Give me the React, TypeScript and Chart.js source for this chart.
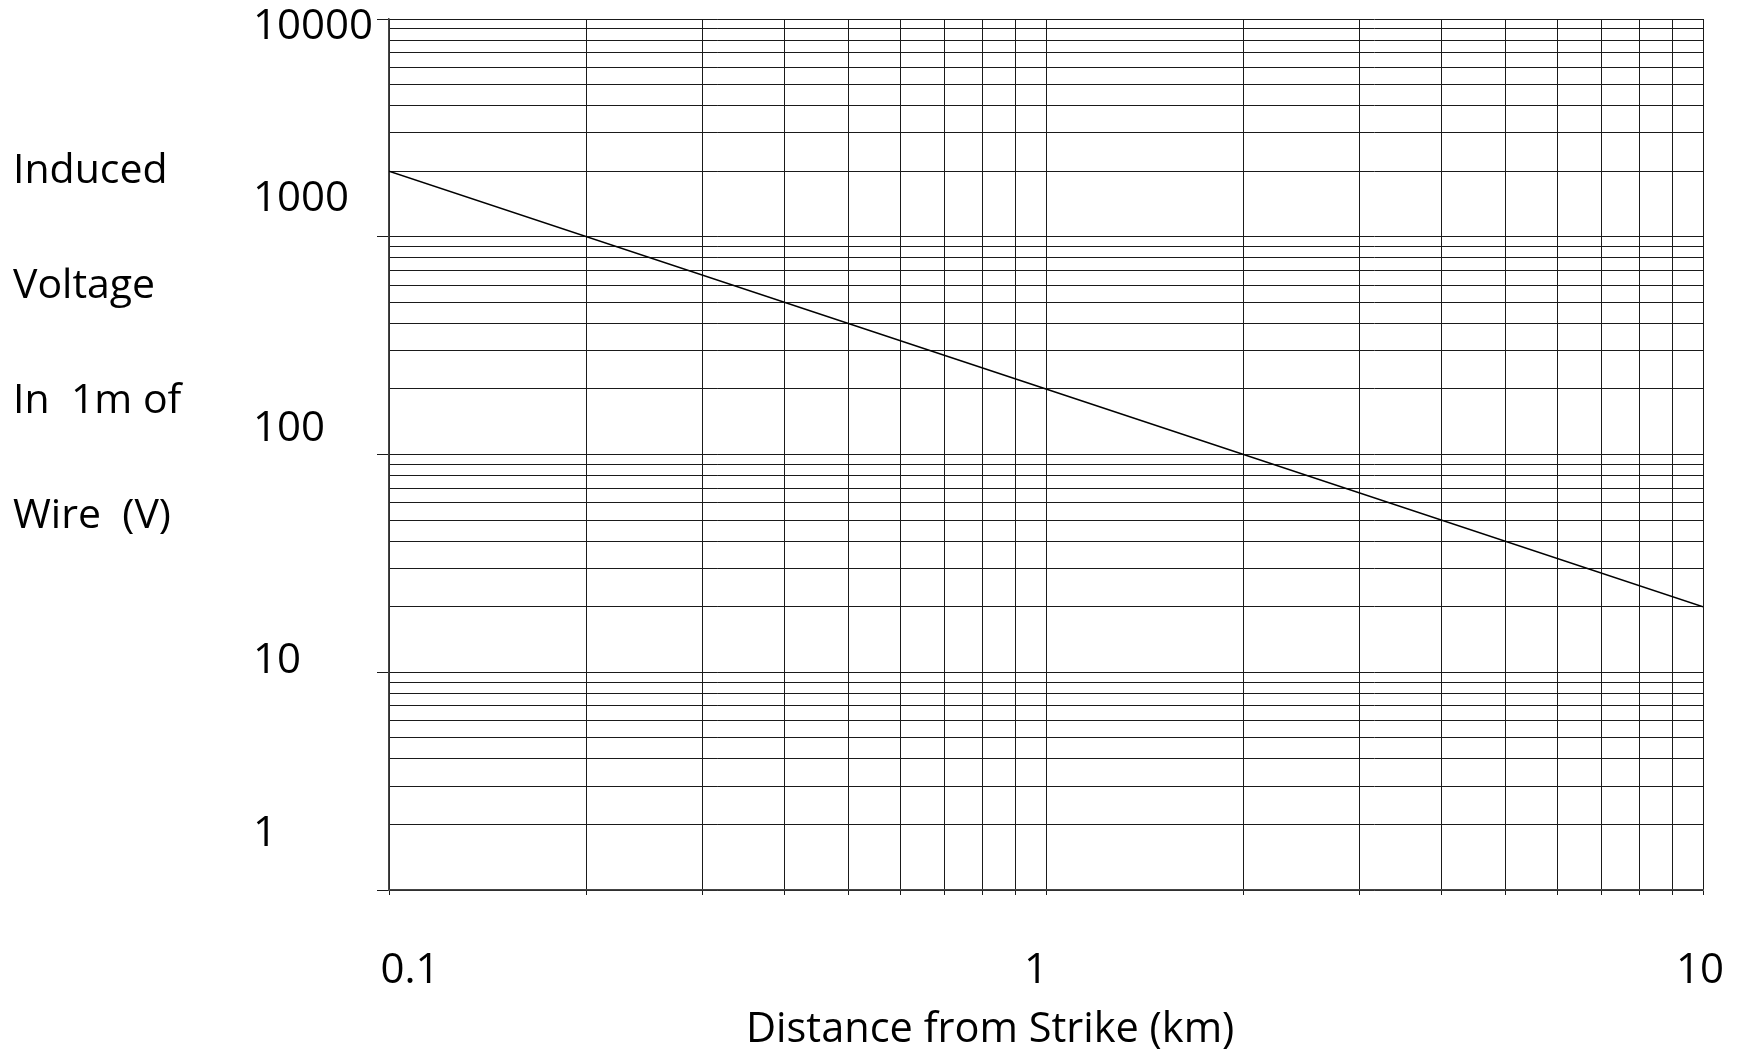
import React, { useEffect, useRef } from 'react';
import { Chart, registerables } from 'chart.js';

Chart.register(...registerables);

// ---- data ----
const distanceKm = [0.1, 1, 10];
const inducedVoltage = [2000, 200, 20];

const xTickValues = [0.1, 1, 10];
const xTickLabels = ['0.1', '1', '10'];
const yTickValues = [1, 10, 100, 1000, 10000];
const yTickLabels = ['1', '10', '100', '1000', '10000'];

const yTitleLines = ['Induced', 'Voltage', 'In  1m of', 'Wire  (V)'];
const xTitle = 'Distance from Strike (km)';

// ---- styling ----
const FONT = '"Open Sans", "Noto Sans", sans-serif';
const yLabelBaselineNudge = [-44, 1, -14, -26, 20];
const xLabelCenterNudge = [21, -10, -3];
const GRID = '#1a1a1a';

function logGrid(minExp: number, maxExp: number): number[] {
  const out: number[] = [];
  for (let e = minExp; e < maxExp; e++) {
    for (let k = 1; k < 10; k++) out.push(parseFloat((k * Math.pow(10, e)).toPrecision(6)));
  }
  out.push(Math.pow(10, maxExp));
  return out;
}

const isDecade = (v: number) => Math.abs(Math.log10(v) - Math.round(Math.log10(v))) < 1e-9;

const labelsPlugin = {
  id: 'customLabels',
  afterDraw(chart: any) {
    const ctx = chart.ctx as CanvasRenderingContext2D;
    const xs = chart.scales.x;
    const ys = chart.scales.y;
    ctx.save();
    ctx.fillStyle = '#000';
    ctx.font = `42px ${FONT}`;
    ctx.textBaseline = 'alphabetic';
    ctx.textAlign = 'left';
    yTickValues.forEach((v, i) => {
      ctx.fillText(yTickLabels[i], 253, ys.getPixelForValue(v) + yLabelBaselineNudge[i]);
    });
    ctx.textAlign = 'center';
    xTickValues.forEach((v, i) => {
      ctx.fillText(xTickLabels[i], xs.getPixelForValue(v) + xLabelCenterNudge[i], chart.chartArea.bottom + 93);
    });
    ctx.textAlign = 'left';
    ctx.font = `41px ${FONT}`;
    yTitleLines.forEach((line, i) => {
      ctx.fillText(line, 13, 183 + i * 115);
    });
    ctx.font = `41.5px ${FONT}`;
    ctx.fillText(xTitle, 746, 1042);
    ctx.restore();
  },
};

export default function App() {
  const ref = useRef<HTMLCanvasElement | null>(null);
  useEffect(() => {
    if (!ref.current) return;
    const xGrid = logGrid(-1, 1);
    const yGrid = logGrid(0, 4);
    const chart = new Chart(ref.current, {
      type: 'line',
      data: {
        datasets: [
          {
            data: distanceKm.map((x, i) => ({ x, y: inducedVoltage[i] })),
            borderColor: '#000',
            borderWidth: 1.5,
            pointRadius: 0,
            fill: false,
            tension: 0,
          },
        ],
      },
      options: {
        animation: false,
        responsive: false,
        devicePixelRatio: 1,
        layout: { padding: { left: 377, top: 19, right: 39, bottom: 154 } },
        plugins: { legend: { display: false }, tooltip: { enabled: false }, title: { display: false } },
        scales: {
          x: {
            type: 'logarithmic',
            min: 0.1,
            max: 10,
            afterBuildTicks: (s: any) => {
              s.ticks = xGrid.map((v) => ({ value: v, major: isDecade(v) }));
            },
            ticks: { display: false, autoSkip: false },
            grid: { color: GRID, lineWidth: 1, tickLength: 5, tickColor: GRID, drawTicks: true },
            border: { color: '#444', width: 1.5 },
          },
          y: {
            type: 'logarithmic',
            min: 1,
            max: 10000,
            afterBuildTicks: (s: any) => {
              s.ticks = yGrid.map((v) => ({ value: v, major: isDecade(v) }));
            },
            ticks: { display: false, autoSkip: false },
            grid: {
              color: GRID,
              lineWidth: 1,
              tickLength: 12,
              drawTicks: true,
              tickColor: (c: any) => (c.tick && isDecade(c.tick.value) ? GRID : 'rgba(0,0,0,0)'),
            },
            border: { color: '#444', width: 1.5 },
          },
        },
      },
      plugins: [labelsPlugin],
    });
    return () => chart.destroy();
  }, []);
  return (
    <div style={{ position: 'absolute', left: 0, top: 0, width: 1742, height: 1049, background: '#fff' }}>
      <canvas ref={ref} width={1742} height={1049} style={{ width: 1742, height: 1049, display: 'block' }} />
    </div>
  );
}
